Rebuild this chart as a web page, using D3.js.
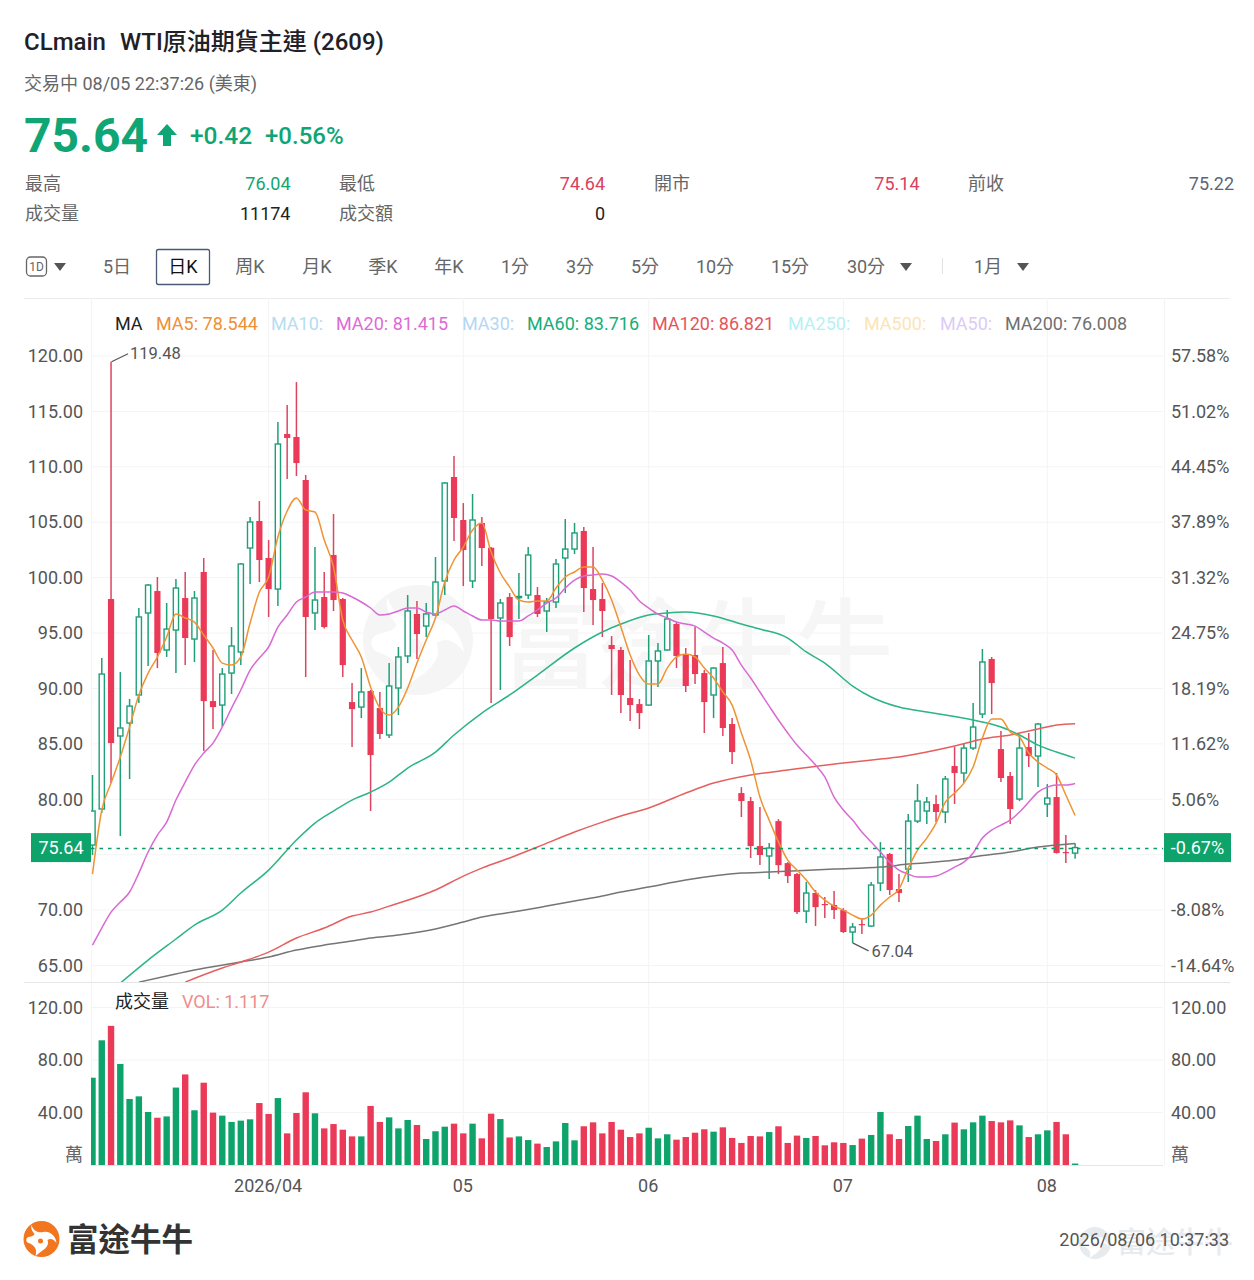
<!DOCTYPE html>
<html>
<head>
<meta charset="utf-8">
<title>CLmain</title>
<script src="https://cdn.jsdelivr.net/npm/d3@7"></script>
<style>
  html, body { margin: 0; padding: 0; background: #fff; }
  svg { display: block; }
  text { font-family: Roboto, "Noto Sans CJK TC", sans-serif; }
  .tick text { font-size: 18px; fill: #555; }
</style>
</head>
<body>
<div id="chart"></div>
<script>
// candles (index 0 = first visible day)
var opens = [75.87,79.12,98.07,85.71,86.88,89.41,96.81,98.79,93.47,95.27,98.16,94.46,100.51,88.86,88.50,91.39,93.29,102.67,105.11,101.77,
  98.97,112.96,112.69,108.81,96.81,98.25,102.04,98.07,88.77,88.32,89.77,88.23,85.80,90.04,92.93,96.72,95.63,96.63,99.70,109.08,
  105.20,99.70,104.93,102.70,96.36,98.25,98.20,98.43,98.43,96.99,97.80,101.77,102.58,104.21,98.97,98.07,93.92,93.47,89.14,88.59,
  88.50,92.48,93.47,95.82,93.02,93.02,91.39,89.41,92.29,86.79,80.56,79.84,75.78,74.88,78.03,74.24,73.25,69.91,71.54,70.55,
  70.46,70.00,68.02,68.74,68.56,72.44,75.06,71.90,73.70,78.03,78.94,79.57,78.85,83.00,82.37,84.62,87.69,92.66,84.53,82.10,
  80.02,84.71,83.90,79.57,80.20,75.24,75.14];
var closes = [78.94,91.30,85.07,86.43,88.41,96.45,99.33,93.20,95.36,99.06,94.55,98.16,88.86,88.32,91.30,93.83,101.23,105.02,101.59,98.97,
  112.06,112.60,110.34,96.45,97.98,95.54,97.98,92.11,88.14,89.68,83.99,85.89,90.22,92.84,96.99,94.91,96.72,99.60,108.54,105.38,
  102.49,105.20,102.67,96.27,97.71,94.64,98.30,102.04,96.72,97.80,101.23,102.58,104.03,99.06,97.98,96.99,93.56,89.41,88.50,87.78,
  92.48,93.38,96.27,92.93,90.22,91.30,88.77,91.84,86.43,84.26,79.84,75.78,74.97,75.60,74.06,73.07,69.82,71.54,70.27,70.46,
  70.00,68.02,68.47,68.65,72.26,74.79,71.81,71.54,78.03,79.84,79.75,78.85,81.83,82.37,84.62,86.52,92.39,90.49,81.92,79.12,
  84.62,83.90,86.79,80.11,75.15,75.15,75.64];
var highs = [82.19,92.75,119.48,91.48,89.05,97.26,99.42,100.06,97.71,99.88,100.51,98.79,101.77,93.47,91.84,95.54,101.32,105.47,106.91,103.39,
  114.04,115.58,117.65,109.26,102.76,100.51,105.74,98.16,90.49,91.84,89.86,89.68,92.29,93.74,98.43,97.89,97.71,101.86,108.63,110.98,
  106.73,107.55,105.47,102.76,98.07,98.61,100.42,102.76,99.15,98.16,101.68,105.29,104.93,104.57,102.76,99.51,94.73,93.74,92.57,89.05,
  94.82,94.10,97.08,96.00,93.65,95.54,91.66,91.93,93.74,87.33,81.10,80.20,79.30,76.05,78.21,74.33,73.34,72.53,71.81,71.18,
  71.72,70.18,68.83,69.28,72.53,76.14,75.15,73.25,78.66,81.37,80.20,80.38,82.10,84.71,85.07,88.68,93.56,92.84,86.16,82.46,
  85.71,85.98,86.88,81.37,82.37,76.77,76.04];
var lows = [74.97,78.76,81.46,76.68,81.83,88.68,92.02,91.84,92.84,91.39,92.11,92.38,84.35,86.34,86.52,89.50,92.11,99.42,99.60,96.45,
  97.44,108.90,109.17,91.03,95.27,95.40,96.99,91.03,84.71,87.33,78.94,85.43,85.53,87.60,92.29,92.66,94.64,96.55,98.43,103.30,
  99.24,99.06,101.05,88.68,89.86,93.83,96.27,98.07,96.45,95.09,97.26,98.61,102.13,96.90,95.72,94.64,89.41,87.78,87.06,86.34,
  88.45,90.13,93.42,91.84,89.68,90.40,85.98,87.33,85.71,83.18,78.40,74.70,74.06,72.80,73.25,72.44,69.64,68.83,68.56,69.28,
  69.19,67.93,67.04,67.84,68.50,71.72,71.36,70.72,72.53,77.85,77.76,77.94,77.85,79.57,81.46,84.44,87.33,87.69,81.56,77.76,
  79.84,82.91,81.10,78.40,75.10,74.24,74.64];
var volumes = [66.5,95,106,77,50.3,52.3,40.4,36,37,59,69,41.7,62.7,39.9,37.6,32.8,33.8,34.8,47.2,38.9,
  51,24.1,39.6,55.4,39.4,27.9,31.2,26.9,21.8,21.8,45,32.8,36.3,27.9,34.3,30.5,19.8,25.7,29.2,31.5,
  24.1,31.5,20.3,39.1,35,21,21.8,19,16.3,13.7,18,32,18.8,29.5,32.5,24.1,32.8,26.9,21.3,24.1,
  28.4,20.3,23.4,19.3,21.3,24.6,27.2,25.4,28.7,20.6,16.8,22.1,21.8,25.1,29.5,16.8,22.4,20.6,22.1,15,
  17.3,16.8,15.2,20.1,22.9,40.4,23.4,19.8,29.7,37.6,19.8,18.3,23.4,32.3,27.2,32.5,37.6,33.5,32.5,34,
  30.2,21.3,23.4,26.4,32.8,23.4,1.117];

// moving averages
var ma5 = [73.25,79.03,81.46,83.81,86.52,89.41,91.39,92.84,94.64,96.72,96.36,95.99,94.82,93.65,92.29,92.11,92.84,95.90,98.70,100.06,
  103.67,106.01,107.19,106.10,105.92,103.39,100.96,96.17,94.37,92.84,90.13,88.23,87.60,88.32,90.04,92.29,94.37,96.36,99.60,101.59,
  102.76,104.30,104.93,102.31,100.42,99.15,97.98,97.80,97.89,97.89,99.06,100.06,100.51,100.96,100.96,99.78,97.98,95.54,93.02,91.21,
  90.40,90.40,91.84,92.84,93.11,92.84,91.84,90.94,89.68,88.50,85.98,83.54,80.20,78.12,76.14,74.51,73.61,72.71,71.63,70.90,
  70.36,70.00,69.55,69.19,69.55,70.45,71.18,71.90,73.79,75.42,76.50,77.85,79.75,80.56,81.46,82.91,85.53,87.24,87.24,86.07,
  85.62,84.17,83.36,82.82,82.19,80.38,78.54];
var ma20 = [66.84,68.38,69.82,70.72,71.63,73.34,75.24,76.77,77.94,79.93,81.55,83.09,84.17,85.07,86.52,88.23,89.86,91.66,92.75,93.74,
  95.54,96.63,97.80,98.25,98.70,98.70,98.70,98.61,98.25,97.80,97.26,96.63,96.72,96.99,97.26,97.26,96.90,96.72,97.08,97.44,
  96.99,96.54,96.17,96.17,96.08,96.08,96.08,96.54,97.08,97.71,98.16,99.06,99.78,100.15,100.24,100.33,100.15,99.60,98.88,97.89,
  97.26,96.72,96.36,95.99,95.81,95.63,95.09,94.55,94.10,93.47,92.11,90.94,89.68,88.41,87.15,85.98,84.89,83.99,83.09,82.01,
  80.20,79.03,78.12,77.04,76.14,75.24,74.33,73.61,73.25,72.98,72.98,73.07,73.43,73.88,74.33,75.15,76.50,77.22,77.67,78.12,
  78.85,79.75,80.65,81.10,81.28,81.28,81.415];
var ma60Days = [3,6,9,11,14,16,19,22,24,26,28,30,32,34,37,39,42,45,48,52,55,57,60,62,64,67,70,72,75,77,79,82,84,87,90,92,95,96,98,100,102,104,106];
var ma60 = [63.41,65.49,67.39,68.65,70.00,71.54,73.61,76.32,77.85,78.94,79.93,80.65,81.55,82.82,84.26,85.80,87.78,89.41,91.21,93.65,95.09,95.81,96.63,96.81,96.90,96.54,95.81,95.36,94.55,93.29,92.29,90.22,89.23,88.32,87.87,87.60,87.15,86.97,86.52,85.80,84.89,84.26,83.716];
var ma120Days = [10,14,16,19,22,25,28,30,32,37,40,42,45,48,52,55,57,60,64,67,71,75,81,85,87,90,93,96,99,102,104,106];
var ma120 = [63.50,64.77,65.31,66.21,67.48,68.38,69.46,69.82,70.36,71.81,73.07,73.79,74.70,75.69,77.04,77.94,78.49,79.21,80.56,81.46,82.19,82.64,83.27,83.63,83.81,84.26,84.80,85.44,85.80,86.34,86.70,86.821];
var ma200Days = [5,8,11,16,19,22,25,28,30,33,37,40,42,46,49,52,55,57,60,64,70,73,80,85,88,93,95,99,102,106];
var ma200 = [63.50,64.05,64.59,65.31,65.76,66.39,66.84,67.21,67.48,67.75,68.29,68.92,69.37,69.91,70.36,70.82,71.27,71.63,72.08,72.71,73.34,73.43,73.70,73.88,74.15,74.51,74.79,75.24,75.69,76.008];

// axes
var priceTicks = [120,115,110,105,100,95,90,85,80,75,70,65];
var hiddenPriceTick = 75; // covered by the last-price tag
var volumeTicks = [120,80,40];
var monthDays = [19,40,60,81,103];
var monthLabels = ["2026/04","05","06","07","08"];
var lastPrice = 75.64;
var pctBase = 76.15;

// header text
var quoteLabels = ["最高","最低","開市","前收","成交量","成交額"];
var quoteValues = ["76.04","74.64","75.14","75.22","11174","0"];
var quoteColors = ["#12a574","#d9415c","#d9415c","#5d6677","#222222","#222222"];
var tabLabels = ["5日","日K","周K","月K","季K","年K","1分","3分","5分","10分","15分","30分","1月"];
var tabCenters = [117,183,250,317,383,449,515,580,645,715,790,866,988];
var legendLabels = ["MA","MA5: 78.544","MA10:","MA20: 81.415","MA30:","MA60: 83.716","MA120: 86.821","MA250:","MA500:","MA50:","MA200: 76.008"];
var legendStarts = [115,156,271,336,462,527,652,788,864,940,1005];
var legendColors = ["#222222","#ef8f35","#b6dcf3","#dc6bd6","#b3d7f5","#14ae7a","#e4555a","#b5f1f5","#fde4b2","#dccbf6","#707070"];

var width = 1254, height = 1280;
var plotLeft = 91, plotRight = 1163, plotTop = 340, gridTop = 298, priceBottom = 982, volBottom = 1165;

var green = "#0da36b", greenLine = "#1f9f78", red = "#ea3a57", gridColor = "#f4f4f4";

var svg = d3.select("#chart").append("svg")
  .attr("width", width)
  .attr("height", height);

var x = d3.scaleLinear().domain([0, 106]).range([92.5, 1075.1]);
var y = d3.scaleLinear().domain([65, 120]).range([965.5, 356]);
var yVol = d3.scaleLinear().domain([0, 120]).range([volBottom, 1007.5]);

var defs = svg.append("defs");
defs.append("clipPath").attr("id", "priceClip").append("rect")
  .attr("x", plotLeft).attr("y", plotTop).attr("width", plotRight - plotLeft).attr("height", priceBottom - plotTop);
defs.append("clipPath").attr("id", "volClip").append("rect")
  .attr("x", plotLeft).attr("y", priceBottom).attr("width", plotRight - plotLeft).attr("height", volBottom - priceBottom);

function label(parent, px, py, str, size, color, weight, anchor) {
  return parent.append("text")
    .attr("x", px).attr("y", py)
    .attr("font-size", size)
    .attr("font-weight", weight || 400)
    .attr("text-anchor", anchor || "start")
    .attr("fill", color)
    .text(str);
}

function logo(parent, cx, cy, r, color, cut) {
  var g = parent.append("g").attr("transform", "translate(" + cx + "," + cy + ") scale(" + (r / 18) + ")");
  g.append("circle").attr("r", 18).attr("fill", color);
  g.append("path")
    .attr("d", "M-10,-14 C-8,-8 -4,-6 2,-7 C8,-8 14,-4 15,4 C12,0 9,-1 6,1 C8,6 4,10 -1,13 L-6,17 C-4,10 -7,6 -13,4 C-16,3 -16,-1 -13,-2 C-9,-3 -8,-3 -7,-5 C-9,-8 -11,-10 -10,-14 Z")
    .attr("fill", cut);
  g.append("circle").attr("cx", -1).attr("cy", 2).attr("r", 2.5).attr("fill", color);
}

// ---- header ----
label(svg, 24, 50, "CLmain", 24, "#1f2126", 500);
label(svg, 120, 50, "WTI原油期貨主連 (2609)", 24, "#1f2126", 500);
label(svg, 24, 90, "交易中 08/05 22:37:26 (美東)", 18, "#666");
label(svg, 24, 152, "75.64", 48, "#0fa574", 700);
svg.append("path")
  .attr("d", "M167,124 L177,135 L171,135 L171,146 L163,146 L163,135 L157,135 Z")
  .attr("fill", "#0fa574");
label(svg, 190, 144, "+0.42", 24.5, "#0fa574", 500);
label(svg, 265, 144, "+0.56%", 24, "#0fa574", 500);

var quoteX = [25, 339, 654, 968];
var quoteEnd = [290.5, 605, 919.5, 1234];
quoteLabels.forEach(function (d, i) {
  var col = i % 4, py = i < 4 ? 190 : 220;
  label(svg, quoteX[col], py, d, 18, "#666");
  label(svg, quoteEnd[col], py, quoteValues[i], 18, quoteColors[i], 400, "end");
});

// period tabs
svg.append("rect").attr("x", 26.5).attr("y", 257).attr("width", 20).attr("height", 19).attr("rx", 4)
  .attr("fill", "none").attr("stroke", "#666").attr("stroke-width", 1.3);
label(svg, 36.5, 271, "1D", 12, "#666", 400, "middle");
svg.append("rect").attr("x", 156.5).attr("y", 249.5).attr("width", 53).attr("height", 35).attr("rx", 2)
  .attr("fill", "none").attr("stroke", "#4a5a75").attr("stroke-width", 1.3);
tabLabels.forEach(function (d, i) {
  label(svg, tabCenters[i], 273, d, 18, d === "日K" ? "#111" : "#666", 400, "middle");
});
[60, 906, 1023].forEach(function (cx) {
  svg.append("path")
    .attr("d", "M" + (cx - 6) + ",263 L" + (cx + 6) + ",263 L" + cx + ",271 Z")
    .attr("fill", "#555");
});
svg.append("line").attr("x1", 942.5).attr("x2", 942.5).attr("y1", 258).attr("y2", 274)
  .attr("stroke", "#e2e2e2").attr("stroke-width", 1);
svg.append("line").attr("x1", 24).attr("x2", 1230).attr("y1", 298.5).attr("y2", 298.5)
  .attr("stroke", "#ececec");

// ---- grid ----
var grid = svg.append("g");
grid.selectAll(".hgrid").data(priceTicks).enter().append("line")
  .attr("x1", plotLeft).attr("x2", plotRight)
  .attr("y1", function (d) { return y(d); }).attr("y2", function (d) { return y(d); })
  .attr("stroke", gridColor);
grid.selectAll(".vhgrid").data(volumeTicks).enter().append("line")
  .attr("x1", plotLeft).attr("x2", plotRight)
  .attr("y1", function (d) { return yVol(d); }).attr("y2", function (d) { return yVol(d); })
  .attr("stroke", gridColor);
grid.selectAll(".vgrid").data(monthDays).enter().append("line")
  .attr("x1", function (d) { return x(d); }).attr("x2", function (d) { return x(d); })
  .attr("y1", gridTop).attr("y2", volBottom)
  .attr("stroke", gridColor);
grid.selectAll(".edge").data([plotLeft + 0.5, plotRight + 1.5]).enter().append("line")
  .attr("x1", function (d) { return d; }).attr("x2", function (d) { return d; })
  .attr("y1", gridTop).attr("y2", volBottom)
  .attr("stroke", gridColor);

// watermark
logo(svg, 418, 640, 55, "#f5f5f5", "#ffffff");
label(svg, 501, 680, "富途牛牛", 98, "#f6f6f6", 500);

// section rules
svg.append("line").attr("x1", 24).attr("x2", 1230).attr("y1", priceBottom + 0.5).attr("y2", priceBottom + 0.5)
  .attr("stroke", "#e6e6e6");
svg.append("line").attr("x1", plotLeft).attr("x2", plotRight).attr("y1", volBottom + 0.5).attr("y2", volBottom + 0.5)
  .attr("stroke", "#e6e6e6");

// ---- volume bars ----
svg.append("g").attr("clip-path", "url(#volClip)")
  .selectAll("rect").data(volumes).enter().append("rect")
  .attr("x", function (d, i) { return x(i) - 3.2; })
  .attr("width", 6.4)
  .attr("y", function (d) { return yVol(d); })
  .attr("height", function (d) { return volBottom - yVol(d); })
  .attr("fill", function (d, i) { return closes[i] >= opens[i] ? green : red; });

// ---- candles ----
var candles = svg.append("g").attr("clip-path", "url(#priceClip)");
var days = candles.selectAll("g").data(d3.range(opens.length)).enter().append("g");
days.append("line")
  .attr("x1", function (i) { return x(i); }).attr("x2", function (i) { return x(i); })
  .attr("y1", function (i) { return y(highs[i]); }).attr("y2", function (i) { return y(lows[i]); })
  .attr("stroke", function (i) { return closes[i] >= opens[i] ? greenLine : "#dd4460"; })
  .attr("stroke-width", 1.5);
days.append("rect")
  .attr("x", function (i) { return closes[i] >= opens[i] ? x(i) - 2.6 : x(i) - 3.1; })
  .attr("width", function (i) { return closes[i] >= opens[i] ? 5.2 : 6.2; })
  .attr("y", function (i) { return y(Math.max(opens[i], closes[i])); })
  .attr("height", function (i) { return Math.max(1.2, Math.abs(y(opens[i]) - y(closes[i]))); })
  .attr("fill", function (i) { return closes[i] >= opens[i] ? "#fff" : red; })
  .attr("stroke", function (i) { return closes[i] >= opens[i] ? greenLine : "none"; })
  .attr("stroke-width", 1.4);

// ---- moving averages ----
var maLine = d3.line()
  .x(function (d) { return x(d[0]); })
  .y(function (d) { return y(d[1]); })
  .curve(d3.curveMonotoneX);

function drawMa(dayList, values, color) {
  candles.append("path")
    .datum(values.map(function (v, i) { return [dayList[i], v]; }))
    .attr("d", maLine)
    .attr("fill", "none")
    .attr("stroke", color)
    .attr("stroke-width", 1.5);
}
var allDays = d3.range(opens.length);
drawMa(ma200Days, ma200, "#757575");
drawMa(ma120Days, ma120, "#e4605f");
drawMa(ma60Days, ma60, "#2cb482");
drawMa(allDays, ma20, "#d86ad3");
drawMa(allDays, ma5, "#ef9333");

// last price line
var lastY = Math.round(y(lastPrice)) + 0.5;
svg.append("line")
  .attr("x1", plotLeft).attr("x2", plotRight)
  .attr("y1", lastY).attr("y2", lastY)
  .attr("stroke", "#0a9c62").attr("stroke-width", 1.5).attr("stroke-dasharray", "3.5,5");

// high / low notes
var hiDay = highs.indexOf(d3.max(highs)), loDay = lows.indexOf(d3.min(lows));
svg.append("line")
  .attr("x1", x(hiDay) + 0.5).attr("y1", y(highs[hiDay]))
  .attr("x2", x(hiDay) + 17).attr("y2", y(highs[hiDay]) - 8)
  .attr("stroke", "#555").attr("stroke-width", 1.2);
label(svg, x(hiDay) + 19, y(highs[hiDay]) - 3, d3.max(highs).toFixed(2), 16.5, "#555");
svg.append("line")
  .attr("x1", x(loDay)).attr("y1", y(lows[loDay]))
  .attr("x2", x(loDay) + 16).attr("y2", y(lows[loDay]) + 8)
  .attr("stroke", "#555").attr("stroke-width", 1.2);
label(svg, x(loDay) + 19, y(lows[loDay]) + 14.5, d3.min(lows).toFixed(2), 16.5, "#555");

// ---- axes ----
function clean(g) {
  g.select(".domain").remove();
}
var shownTicks = priceTicks.filter(function (d) { return d !== hiddenPriceTick; });
svg.append("g").attr("transform", "translate(" + plotLeft + ",0)")
  .call(d3.axisLeft(y).tickValues(shownTicks).tickFormat(d3.format(".2f")).tickSize(0).tickPadding(8))
  .call(clean);
svg.append("g").attr("transform", "translate(" + plotRight + ",0)")
  .call(d3.axisRight(y).tickValues(shownTicks).tickFormat(function (d) {
    return ((d / pctBase - 1) * 100).toFixed(2) + "%";
  }).tickSize(0).tickPadding(8))
  .call(clean);
svg.append("g").attr("transform", "translate(" + plotLeft + ",0)")
  .call(d3.axisLeft(yVol).tickValues(volumeTicks).tickFormat(d3.format(".2f")).tickSize(0).tickPadding(8))
  .call(clean);
svg.append("g").attr("transform", "translate(" + plotRight + ",0)")
  .call(d3.axisRight(yVol).tickValues(volumeTicks).tickFormat(d3.format(".2f")).tickSize(0).tickPadding(8))
  .call(clean);
svg.append("g").attr("transform", "translate(-1," + volBottom + ")")
  .call(d3.axisBottom(x).tickValues(monthDays).tickFormat(function (d, i) { return monthLabels[i]; }).tickSize(0).tickPadding(14))
  .call(clean);
svg.selectAll(".tick text").style("font-family", 'Roboto, "Noto Sans CJK TC", sans-serif');

label(svg, 83, 1161, "萬", 18, "#666", 400, "end");
label(svg, 1171, 1161, "萬", 18, "#666");

// last price tags
svg.append("rect").attr("x", 31).attr("y", y(lastPrice) - 14.5).attr("width", plotLeft - 31).attr("height", 29).attr("fill", green);
label(svg, 61, y(lastPrice) + 6.5, lastPrice.toFixed(2), 18, "#fff", 400, "middle");
svg.append("rect").attr("x", plotRight + 1).attr("y", y(lastPrice) - 14.5).attr("width", 67).attr("height", 29).attr("fill", green);
label(svg, plotRight + 34.5, y(lastPrice) + 6.5, ((lastPrice / pctBase - 1) * 100).toFixed(2) + "%", 18, "#fff", 400, "middle");

// legends
legendLabels.forEach(function (d, i) {
  label(svg, legendStarts[i], 330, d, 18, legendColors[i]);
});
label(svg, 115, 1008, "成交量", 18, "#222");
label(svg, 182, 1008, "VOL: 1.117", 18, "#ee8d8d");

// ---- footer ----
logo(svg, 41.5, 1239, 18, "#f2751f", "#ffffff");
label(svg, 67, 1251, "富途牛牛", 31.5, "#333", 700);
logo(svg, 1095, 1243, 16, "#e8ebee", "#ffffff");
label(svg, 1117, 1253, "富途牛牛", 29, "#e8ebee", 500);
label(svg, 1229, 1246, "2026/08/06 10:37:33", 18, "#555", 400, "end");
</script>
</body>
</html>
